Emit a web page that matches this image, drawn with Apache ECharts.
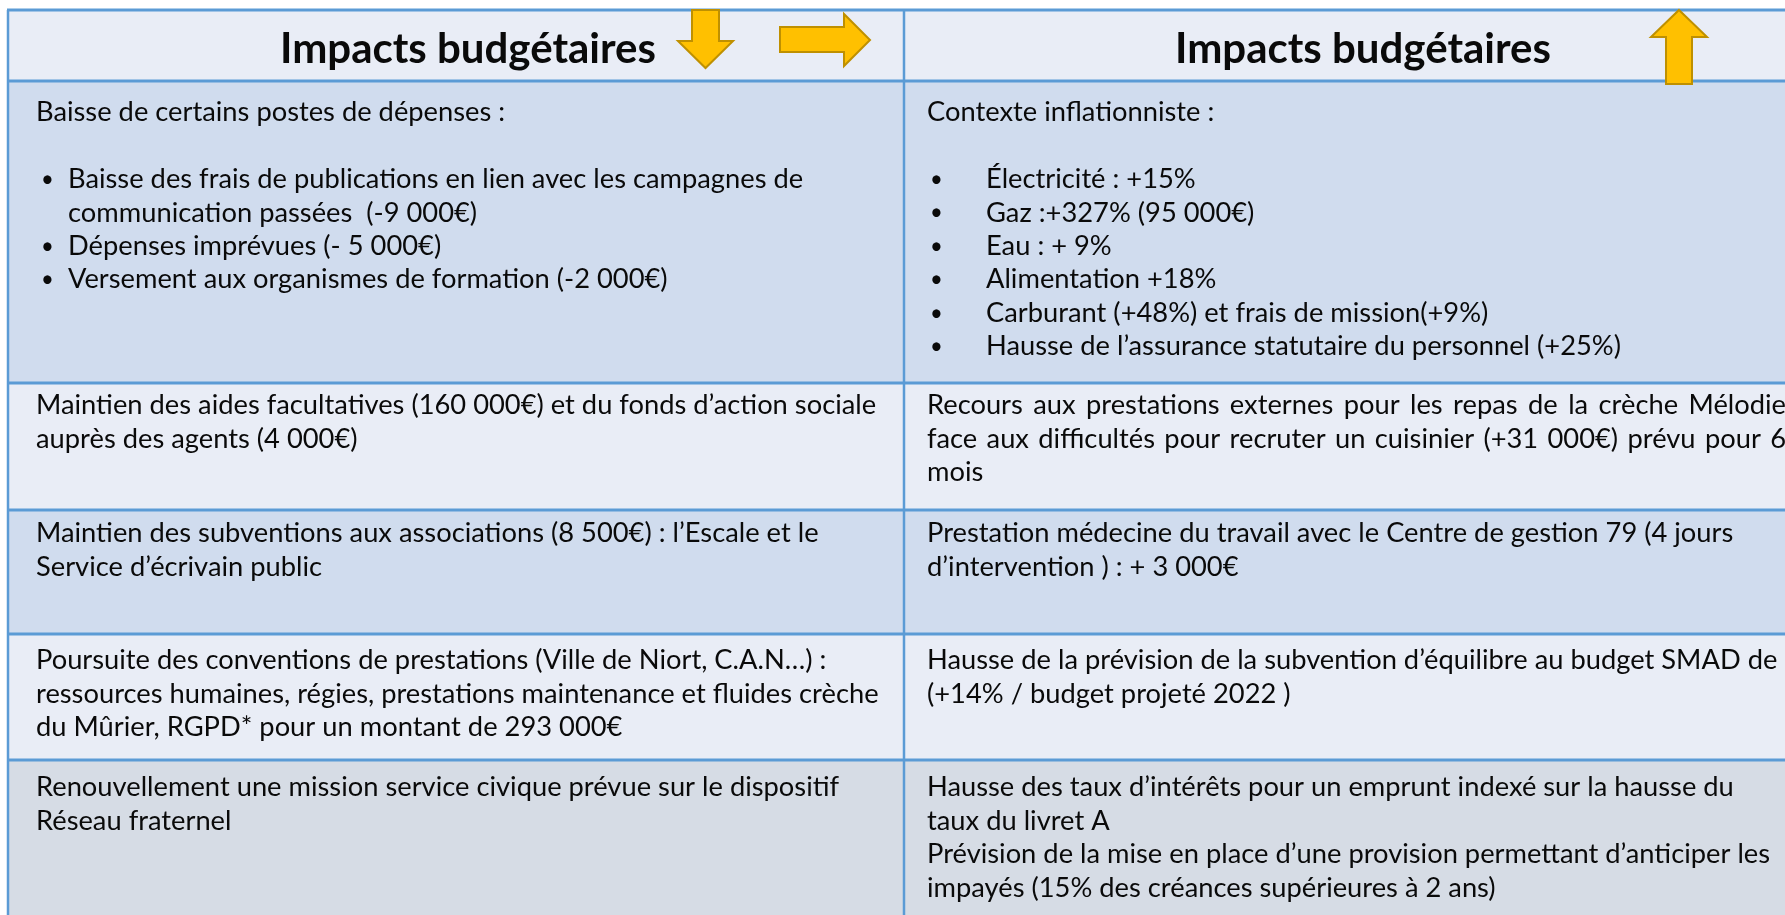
<!DOCTYPE html>
<html><head><meta charset="utf-8">
<script src="https://cdn.jsdelivr.net/npm/echarts@6/dist/echarts.min.js"></script>
<style>html,body{margin:0;padding:0;background:#fff}#main{width:1785px;height:915px}</style>
</head><body><div id="main"></div>
<script>
// ---------- DATA ----------
const headers = ['Impacts budgétaires', 'Impacts budgétaires'];
// line kinds: 'p' paragraph, 'b' bullet, 'c' bullet continuation, 'j' justified paragraph
const leftCells = [
  [['p','Baisse de certains postes de dépenses :'], ['p',''],
   ['b','Baisse des frais de publications en lien avec les campagnes de'],
   ['c','communication passées  (-9 000€)'],
   ['b','Dépenses imprévues (- 5 000€)'],
   ['b','Versement aux organismes de formation (-2 000€)']],
  [['p','Maintien des aides facultatives (160 000€) et du fonds d’action sociale'],
   ['p','auprès des agents (4 000€)']],
  [['p','Maintien des subventions aux associations (8 500€) : l’Escale et le'],
   ['p','Service d’écrivain public']],
  [['p','Poursuite des conventions de prestations (Ville de Niort, C.A.N…) :'],
   ['p','ressources humaines, régies, prestations maintenance et fluides crèche'],
   ['p','du Mûrier, RGPD* pour un montant de 293 000€']],
  [['p','Renouvellement une mission service civique prévue sur le dispositif'],
   ['p','Réseau fraternel']]
];
const rightCells = [
  [['p','Contexte inflationniste :'], ['p',''],
   ['b','Électricité : +15%'],
   ['b','Gaz :+327% (95 000€)'],
   ['b','Eau : + 9%'],
   ['b','Alimentation +18%'],
   ['b','Carburant (+48%) et frais de mission(+9%)'],
   ['b','Hausse de l’assurance statutaire du personnel (+25%)']],
  [['j','Recours aux prestations externes pour les repas de la crèche Mélodie'],
   ['j','face aux difficultés pour recruter un cuisinier (+31 000€) prévu pour 6'],
   ['p','mois']],
  [['p','Prestation médecine du travail avec le Centre de gestion 79 (4 jours'],
   ['p','d’intervention ) : + 3 000€']],
  [['p','Hausse de la prévision de la subvention d’équilibre au budget SMAD de'],
   ['p','(+14% / budget projeté 2022 )']],
  [['p','Hausse des taux d’intérêts pour un emprunt indexé sur la hausse du'],
   ['p','taux du livret A'],
   ['p','Prévision de la mise en place d’une provision permettant d’anticiper les'],
   ['p','impayés (15% des créances supérieures à 2 ans)']]
];
const headerArrows = ['down', 'right', 'up'];

// ---------- LAYOUT / STYLE ----------
const L = {
  tableTop: 10, headerBottom: 81,
  rowBottoms: [383, 510, 634, 760, 930],
  colX: [8, 904, 1800],
  firstLineY: [113, 406, 534, 661, 788],
  lineH: 33.4,
  textX: [[36, 41, 68], [927, 930, 986]],
  justifyRight: [895, 1786],
  rowFill: ['#D0DCEE', '#E9EDF6', '#D0DCEE', '#E9EDF6', '#D6DCE5'],
  headerFill: '#E9EDF6',
  headerTextX: [280, 1175], headerY: 49,
  border: '#5B9BD5',
  font: 'Lato', fontSize: 26, scaleX: 1.05, headerSize: 42
};
const arrowShapes = {
  down:  [[692,10],[719,10],[719,41],[733,41],[705.5,68],[678,41],[692,41]],
  right: [[780,27],[844,27],[844,14],[870,40],[844,66],[844,52],[780,52]],
  up:    [[1679,10],[1707,37],[1692,37],[1692,84],[1666,84],[1666,37],[1651,37]]
};

const measureCtx = document.createElement('canvas').getContext('2d');
function textWidth(s, size, weight) {
  measureCtx.font = (weight || 'normal') + ' ' + size + 'px ' + L.font;
  return measureCtx.measureText(s).width;
}

const cellData = [];
for (let c = 0; c < 2; c++) cellData.push([-1, c]);
for (let r = 0; r < leftCells.length; r++) { cellData.push([r, 0]); cellData.push([r, 1]); }

function textEl(str, x, y, opts) {
  opts = opts || {};
  return {
    type: 'text',
    x: x, y: y,
    scaleX: opts.scaleX || L.scaleX,
    style: {
      text: str, x: 0, y: 0, fill: '#0a0a0a',
      fontFamily: L.font, fontSize: opts.size || L.fontSize,
      fontWeight: opts.weight || 'normal',
      verticalAlign: 'middle', align: 'left'
    }
  };
}

function renderCell(params, api) {
  const r = api.value(0), c = api.value(1);
  const x0 = L.colX[c], x1 = L.colX[c + 1];
  const children = [];
  if (r < 0) {
    children.push({ type: 'rect', shape: { x: x0, y: L.tableTop, width: x1 - x0, height: L.headerBottom - L.tableTop }, style: { fill: L.headerFill } });
    children.push(textEl(headers[c], L.headerTextX[c], L.headerY, { size: L.headerSize, weight: 'bold', scaleX: 1 }));
    return { type: 'group', children: children };
  }
  const top = r === 0 ? L.headerBottom : L.rowBottoms[r - 1];
  const bottom = L.rowBottoms[r];
  children.push({ type: 'rect', shape: { x: x0, y: top, width: x1 - x0, height: bottom - top }, style: { fill: L.rowFill[r] } });
  const lines = (c === 0 ? leftCells : rightCells)[r];
  const tx = L.textX[c];
  lines.forEach(function (ln, i) {
    const y = L.firstLineY[r] + i * L.lineH;
    const kind = ln[0], str = ln[1];
    if (!str) return;
    if (kind === 'b') {
      children.push(textEl('•', tx[1], y, { size: L.fontSize * 0.85, scaleX: 1 }));
      children.push(textEl(str, tx[2], y));
    } else if (kind === 'c') {
      children.push(textEl(str, tx[2], y));
    } else if (kind === 'j') {
      const words = str.split(' ');
      const widths = words.map(function (w) { return textWidth(w, L.fontSize) * L.scaleX; });
      const total = widths.reduce(function (a, b) { return a + b; }, 0);
      const gap = (L.justifyRight[c] - tx[0] - total) / (words.length - 1);
      let x = tx[0];
      words.forEach(function (w, k) { children.push(textEl(w, x, y)); x += widths[k] + gap; });
    } else {
      children.push(textEl(str, tx[0], y));
    }
  });
  return { type: 'group', children: children };
}

const graphics = [];
const hY = [L.tableTop, L.headerBottom].concat(L.rowBottoms.slice(0, 4));
hY.forEach(function (y) {
  graphics.push({ type: 'line', z: 100, shape: { x1: L.colX[0] - 1, y1: y, x2: 1785, y2: y }, style: { stroke: L.border, lineWidth: 3 } });
});
[L.colX[0], L.colX[1]].forEach(function (x) {
  graphics.push({ type: 'line', z: 100, shape: { x1: x, y1: L.tableTop, x2: x, y2: 915 }, style: { stroke: L.border, lineWidth: 2.5 } });
});
headerArrows.forEach(function (d) {
  graphics.push({ type: 'polygon', z: 110, shape: { points: arrowShapes[d] }, style: { fill: '#FFC000', stroke: '#BF9000', lineWidth: 2 } });
});

const chart = echarts.init(document.getElementById('main'), null, { renderer: 'canvas' });
chart.setOption({
  animation: false,
  backgroundColor: '#ffffff',
  series: [{
    type: 'custom',
    coordinateSystem: 'none',
    renderItem: renderCell,
    data: cellData,
    silent: true
  }],
  graphic: { elements: graphics }
});
</script>
</body></html>
